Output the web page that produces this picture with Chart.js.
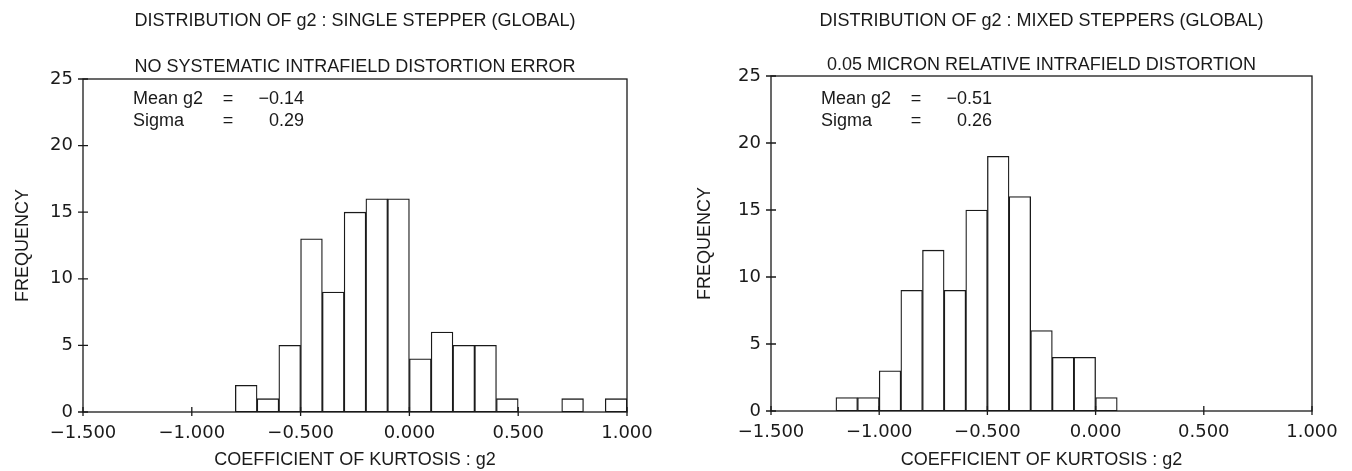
<!DOCTYPE html>
<html>
<head>
<meta charset="utf-8">
<script src="https://cdn.jsdelivr.net/npm/chart.js@4.4.1/dist/chart.umd.min.js"></script>
<style>
  body { margin: 0; background: #fff; }
  canvas { position: absolute; top: 0; }
  #left { left: 0; }
  #right { left: 676px; }
</style>
</head>
<body>
<canvas id="left" width="676" height="471"></canvas>
<canvas id="right" width="676" height="471"></canvas>
<script>
// histogram bins (centres, width 0.1) and counts
const leftCenters = [-0.75, -0.65, -0.55, -0.45, -0.35, -0.25, -0.15, -0.05, 0.05, 0.15, 0.25, 0.35, 0.45, 0.55, 0.65, 0.75, 0.85, 0.95];
const leftCounts  = [2, 1, 5, 13, 9, 15, 16, 16, 4, 6, 5, 5, 1, 0, 0, 1, 0, 1];
const rightCenters = [-1.15, -1.05, -0.95, -0.85, -0.75, -0.65, -0.55, -0.45, -0.35, -0.25, -0.15, -0.05, 0.05];
const rightCounts  = [1, 1, 3, 9, 12, 9, 15, 19, 16, 6, 4, 4, 1];

const xTickValues = [-1.5, -1.0, -0.5, 0.0, 0.5, 1.0];
const yTickValues = [0, 5, 10, 15, 20, 25];

const leftTitles  = ['DISTRIBUTION OF g2 : SINGLE STEPPER (GLOBAL)', 'NO SYSTEMATIC INTRAFIELD DISTORTION ERROR'];
const rightTitles = ['DISTRIBUTION OF g2 : MIXED STEPPERS (GLOBAL)', '0.05 MICRON RELATIVE INTRAFIELD DISTORTION'];
const leftStats  = ['−0.14', '0.29'];
const rightStats = ['−0.51', '0.26'];
const xTitle = 'COEFFICIENT OF KURTOSIS : g2';
const yTitle = 'FREQUENCY';

const ink = '#1a1a1a';
const textFont = { family: '"Liberation Sans", Arial, sans-serif', size: 18 };
const numFont = { family: '"DejaVu Sans", sans-serif', size: 18 };

function fmt(v) {
  return (v < 0 ? '−' : '') + Math.abs(v).toFixed(3);
}

// box, crossing ticks, titles and the mean/sigma note
const framePlugin = {
  id: 'frame',
  afterDraw(chart, args, opts) {
    const { ctx, chartArea: a, scales: { x, y } } = chart;
    ctx.save();
    ctx.strokeStyle = ink;
    ctx.lineWidth = 1.3;
    ctx.strokeRect(a.left, a.top, a.width, a.height);
    ctx.beginPath();
    y.ticks.forEach(t => {
      const py = y.getPixelForValue(t.value);
      ctx.moveTo(a.left - 5, py);
      ctx.lineTo(a.left + 5, py);
    });
    x.ticks.forEach(t => {
      const px = x.getPixelForValue(t.value);
      ctx.moveTo(px, a.bottom - 5);
      ctx.lineTo(px, a.bottom + 4);
    });
    ctx.stroke();

    ctx.fillStyle = ink;
    ctx.font = '18px "Liberation Sans", Arial, sans-serif';
    ctx.textBaseline = 'middle';
    ctx.textAlign = 'center';
    const cx = (a.left + a.right) / 2;
    ctx.fillText(opts.titles[0], cx, 21);
    ctx.fillText(opts.titles[1], cx, a.top - opts.subGap);

    const sx = a.left + 50;
    const rows = [['Mean g2', opts.stats[0]], ['Sigma', opts.stats[1]]];
    rows.forEach((r, i) => {
      const py = a.top + opts.statTop + i * 22;
      ctx.textAlign = 'left';
      ctx.fillText(r[0], sx, py);
      ctx.textAlign = 'center';
      ctx.fillText('=', a.left + 145, py);
      ctx.textAlign = 'right';
      ctx.fillText(r[1], a.left + 221, py);
    });
    ctx.restore();
  }
};

function histogram(id, centers, counts, titles, stats, box) {
  return new Chart(document.getElementById(id), {
    type: 'bar',
    data: {
      datasets: [{
        data: centers.map((c, i) => ({ x: c, y: counts[i] })),
        backgroundColor: '#ffffff',
        borderColor: ink,
        borderWidth: 1.3,
        borderSkipped: false,
        barPercentage: 1,
        categoryPercentage: 1
      }]
    },
    options: {
      responsive: false,
      animation: false,
      layout: { padding: { left: 0, right: box.right, top: box.top, bottom: 0 } },
      plugins: {
        legend: { display: false },
        tooltip: { enabled: false },
        frame: { titles: titles, stats: stats, subGap: box.subGap, statTop: box.statTop }
      },
      scales: {
        x: {
          type: 'linear',
          offset: false,
          min: -1.5,
          max: 1.0,
          afterBuildTicks: s => { s.ticks = xTickValues.map(v => ({ value: v })); },
          afterFit: s => { s.height = box.xHeight; },
          grid: { display: false, drawTicks: false },
          border: { display: false },
          ticks: { padding: 11, font: numFont, color: ink, maxRotation: 0, autoSkip: false, callback: v => fmt(v) },
          title: { display: true, text: xTitle, font: textFont, color: ink, padding: { top: 0, bottom: 0 } }
        },
        y: {
          min: 0,
          max: 25,
          afterBuildTicks: s => { s.ticks = yTickValues.map(v => ({ value: v })); },
          afterFit: s => { s.width = box.yWidth; },
          grid: { display: false, drawTicks: false },
          border: { display: false },
          ticks: { padding: 10, font: numFont, color: ink },
          title: { display: true, text: yTitle, font: textFont, color: ink, padding: { top: box.yTitlePad, bottom: 0 } }
        }
      }
    },
    plugins: [framePlugin]
  });
}

histogram('left', leftCenters, leftCounts, leftTitles, leftStats,
  { right: 49, top: 79, xHeight: 59, yWidth: 83, yTitlePad: 12, subGap: 12, statTop: 20 });
histogram('right', rightCenters, rightCounts, rightTitles, rightStats,
  { right: 40, top: 76, xHeight: 60, yWidth: 95, yTitlePad: 18, subGap: 11, statTop: 23 });
</script>
</body>
</html>
